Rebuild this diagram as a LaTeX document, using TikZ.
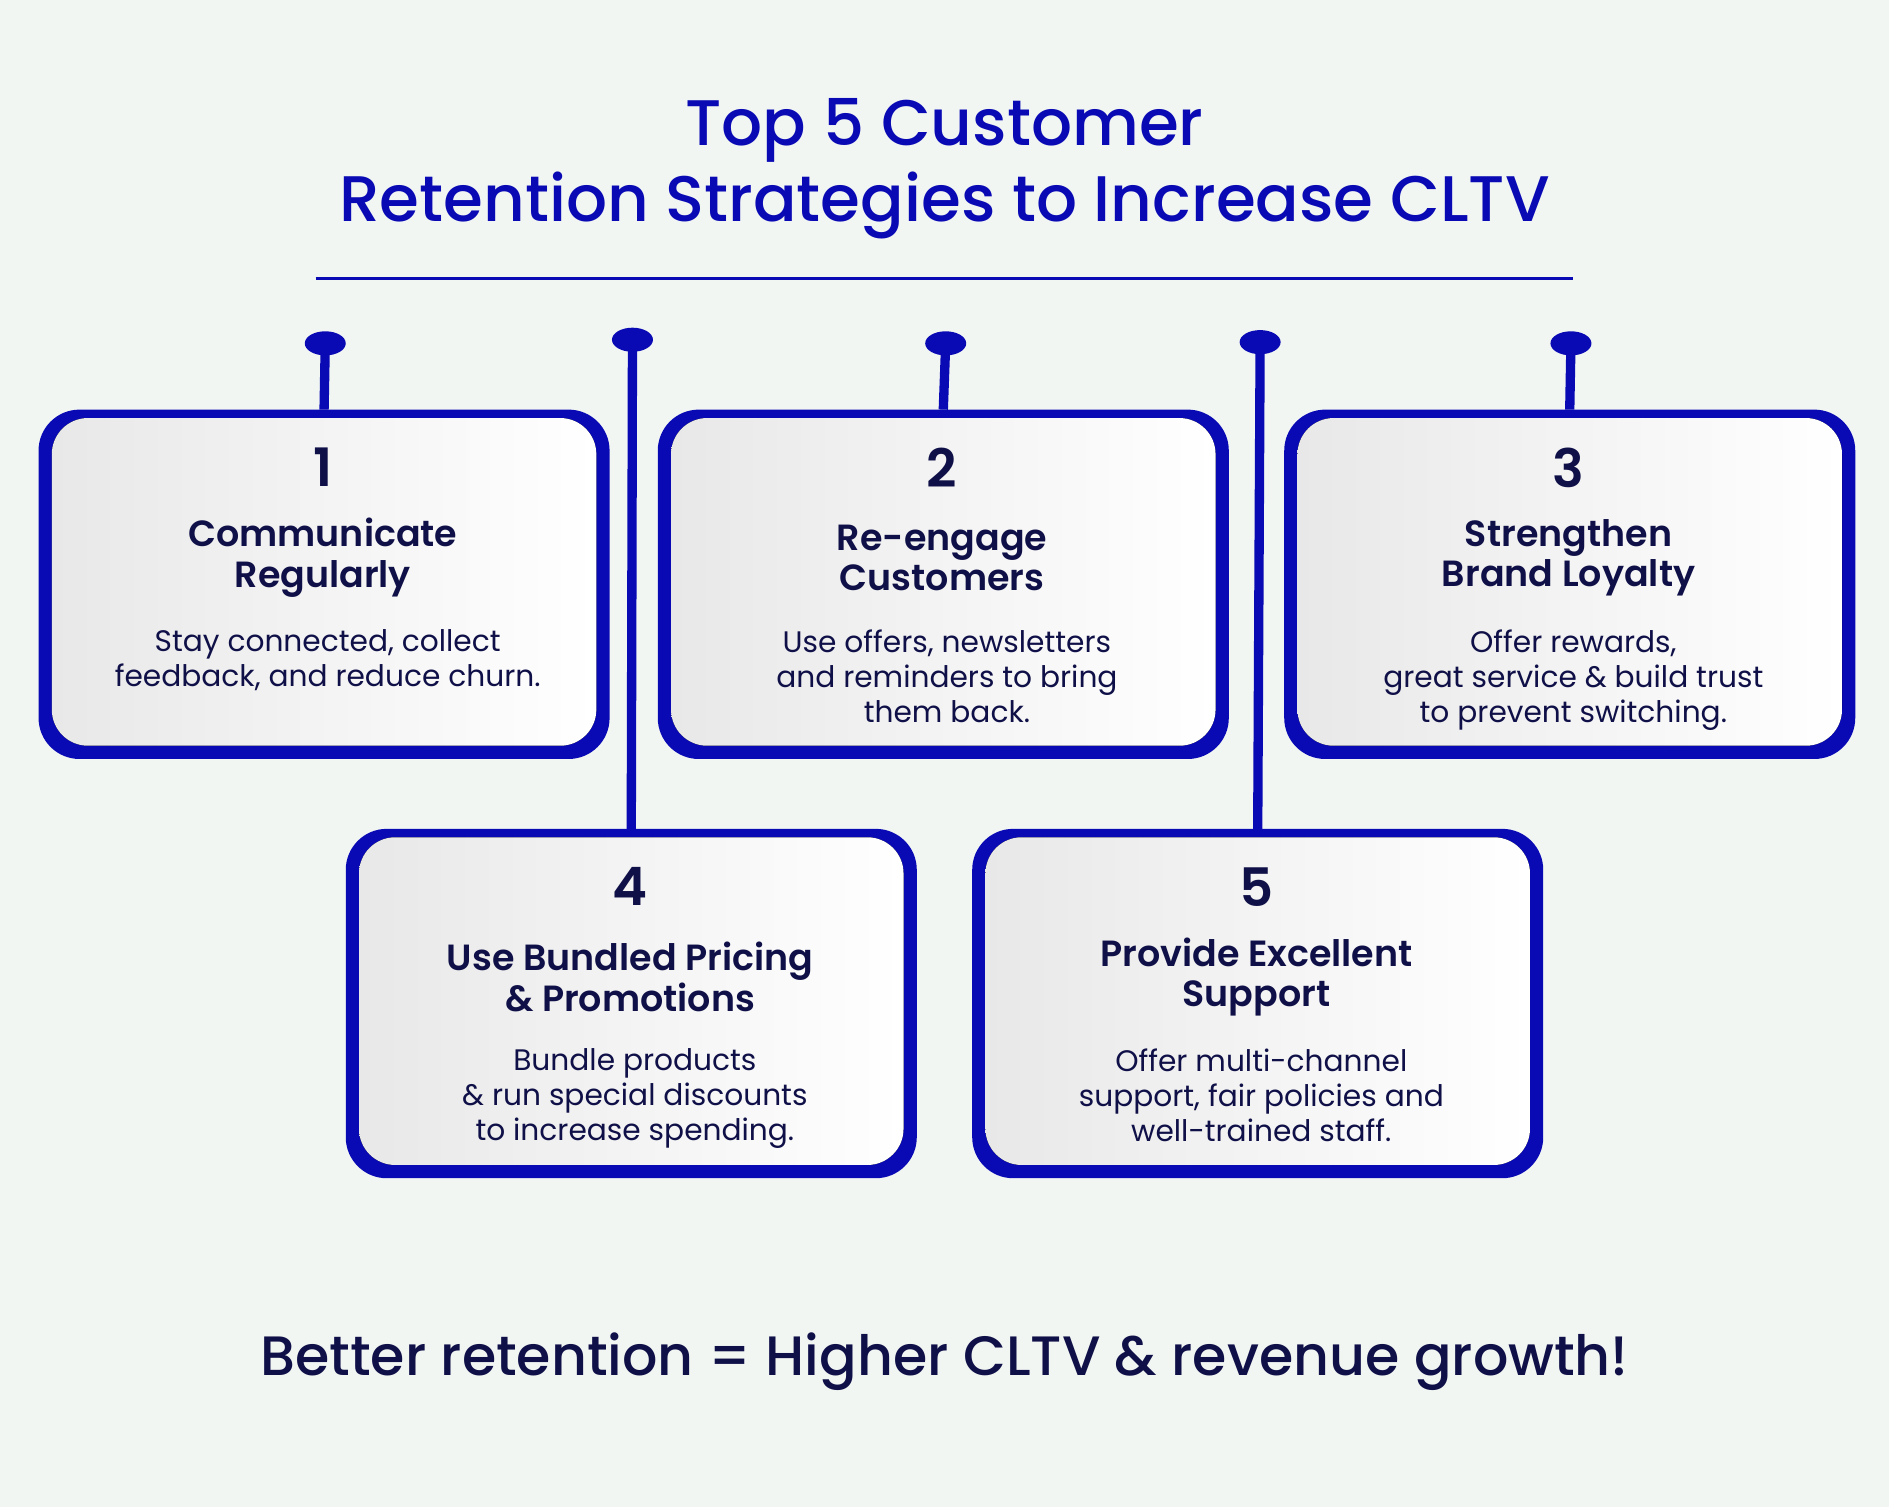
\documentclass[tikz,border=0pt]{standalone}
\usepackage{fontspec}
\setmainfont{Poppins}
\newfontfamily\poppinsmed{Poppins}[UprightFont=* Medium, BoldFont=* SemiBold]
\definecolor{bgc}{HTML}{F2F6F3}
\definecolor{royal}{HTML}{0A0AB4}
\definecolor{navy}{HTML}{101048}
\tikzset{
  frame/.style={fill=royal, rounded corners=0.34cm},
  face/.style={left color=gray!18, right color=white, rounded corners=0.3cm},
  num/.style={text=navy, font=\fontsize{12.5}{15}\selectfont\poppinsmed\bfseries},
  head/.style={text=navy, align=center, font=\fontsize{8.6}{9.6}\selectfont\poppinsmed\bfseries},
  body/.style={text=navy, align=center, font=\fontsize{7}{8.3}\selectfont},
  stem/.style={draw=royal, line width=2.2pt},
  pin/.style={fill=royal, ellipse, minimum width=0.34cm, minimum height=0.2cm, inner sep=0pt}
}
\usetikzlibrary{shapes.geometric}
\newcommand\strategy[6]{% name, x, y, number, heading, body
  \fill[frame] (#2,#3) rectangle ++(474,290);
  \fill[face] (#2+11,#3+7) rectangle ++(452,272);
  \node[num] (#1n) at (#2+236,#3+48) {#4};
  \node[head] (#1h) at (#2+236,#3+123) {#5};
  \node[body] (#1b) at (#2+240,#3+170) [anchor=north] {#6};
  \coordinate (#1) at (#2+237,#3);
}
\begin{document}
\begin{tikzpicture}[x=0.01cm, y=-0.01cm]
  \fill[bgc] (0,0) rectangle (1568,1251);
  \useasboundingbox (0,0) rectangle (1568,1251);
  \node[text=royal, align=center, font=\fontsize{15.2}{17.8}\selectfont\poppinsmed] (title) at (784,140)
    {Top 5 Customer\\Retention Strategies to Increase CLTV};
  \draw[royal, line width=0.8pt] (262,231) -- (1306,231);
  % cards
  \strategy{s1}{32}{340}{1}{Communicate\\Regularly}{Stay connected, collect\\feedback, and reduce churn.}
  \strategy{s2}{546}{340}{2}{Re-engage\\Customers}{Use offers, newsletters\\and reminders to bring\\them back.}
  \strategy{s3}{1066}{340}{3}{Strengthen\\Brand Loyalty}{Offer rewards,\\great service \& build trust\\to prevent switching.}
  \strategy{s4}{287}{688}{4}{Use Bundled Pricing\\\& Promotions}{Bundle products\\\& run special discounts\\to increase spending.}
  \strategy{s5}{807}{688}{5}{Provide Excellent\\Support}{Offer multi-channel\\support, fair policies and\\well-trained staff.}
  % pins
  \foreach \s/\x/\y in {s1/270/285, s2/785/285, s3/1304/285, s4/525/282, s5/1046/284}{
    \node[pin] (p\s) at (\x,\y) {};
    \draw[stem] (p\s.center) -- (\s);
  }
  \node[text=navy, font=\fontsize{13.1}{16}\selectfont\poppinsmed] (tagline) at (784,1130)
    {Better retention = Higher CLTV \& revenue growth!};
\end{tikzpicture}
\end{document}
